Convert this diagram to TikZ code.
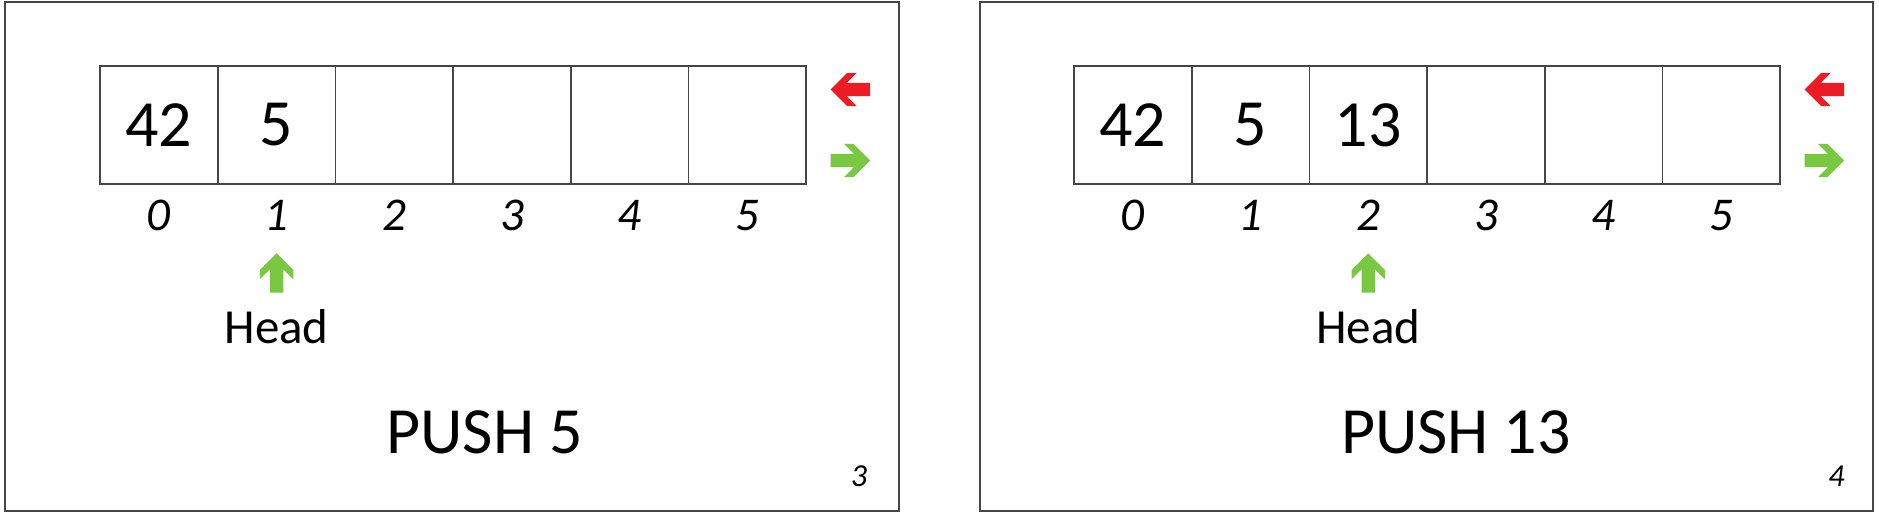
\documentclass[tikz,border=0pt]{standalone}
\usepackage{fontspec}
\setmainfont{Carlito}
\usepackage{tikz}

\definecolor{pushred}{RGB}{237,28,36}
\definecolor{pushgreen}{RGB}{122,200,66}
\definecolor{linegray}{RGB}{70,70,70}

\begin{document}
\begin{tikzpicture}[x=1pt,y=-1pt,
    every node/.style={inner sep=0pt, outer sep=0pt},
    cell/.style={draw=linegray, line width=1.8pt, minimum width=117.7pt, minimum height=117.7pt, font=\fontsize{66}{70}\selectfont},
    idx/.style={anchor=base, font=\fontsize{47}{50}\selectfont\itshape},
    title/.style={anchor=base, font=\fontsize{66}{70}\selectfont},
    pageno/.style={anchor=base, font=\fontsize{32}{34}\selectfont\itshape},
    blockarrow/.pic={\fill (0,0) -- (-16.7,16.7) -- (-16.7,26) -- (-6.7,16) -- (-6.7,39.3) -- (6.7,39.3) -- (6.7,16) -- (16.7,26) -- (16.7,16.7) -- cycle;}]
    \useasboundingbox (0,0) rectangle (1879,513);
    % slide 3
    \draw[linegray, line width=2pt] (4.7,1.7) rectangle (898.7,510.7);
    \node[cell] (a0) at (158.85,125) {42};
    \node[cell] (a1) at (276.55,125) {5};
    \node[cell] (a2) at (394.25,125) {};
    \node[cell] (a3) at (511.95,125) {};
    \node[cell] (a4) at (629.65,125) {};
    \node[cell] (a5) at (747.35,125) {};
    \node[idx] (ai0) at (158.85,230) {0};
    \node[idx] (ai1) at (276.55,230) {1};
    \node[idx] (ai2) at (394.25,230) {2};
    \node[idx] (ai3) at (511.95,230) {3};
    \node[idx] (ai4) at (629.65,230) {4};
    \node[idx] (ai5) at (747.35,230) {5};
    \pic[fill=pushred, rotate=90] at (830.7,89.5) {blockarrow};
    \pic[fill=pushgreen, rotate=-90] at (870,160.5) {blockarrow};
    \pic[fill=pushgreen] at (276.55,253.3) {blockarrow};
    \node[anchor=base, font=\fontsize{49}{52}\selectfont] (ahead) at (276.55,343.3) {Head};
    \node[title] (apush) at (484.5,453) {PUSH 5};
    \node[pageno] (apage) at (859,486) {3};
    % slide 4
    \draw[linegray, line width=2pt] (980,1.7) rectangle (1872.7,510.7);
    \node[cell] (b0) at (1132.85,125) {42};
    \node[cell] (b1) at (1250.55,125) {5};
    \node[cell] (b2) at (1368.25,125) {13};
    \node[cell] (b3) at (1485.95,125) {};
    \node[cell] (b4) at (1603.65,125) {};
    \node[cell] (b5) at (1721.35,125) {};
    \node[idx] (bi0) at (1132.85,230) {0};
    \node[idx] (bi1) at (1250.55,230) {1};
    \node[idx] (bi2) at (1368.25,230) {2};
    \node[idx] (bi3) at (1485.95,230) {3};
    \node[idx] (bi4) at (1603.65,230) {4};
    \node[idx] (bi5) at (1721.35,230) {5};
    \pic[fill=pushred, rotate=90] at (1804.7,89.5) {blockarrow};
    \pic[fill=pushgreen, rotate=-90] at (1844,160.5) {blockarrow};
    \pic[fill=pushgreen] at (1368.25,253.3) {blockarrow};
    \node[anchor=base, font=\fontsize{49}{52}\selectfont] (bhead) at (1368.25,343.3) {Head};
    \node[title] (bpush) at (1456,453) {PUSH 13};
    \node[pageno] (bpage) at (1836.5,486) {4};
\end{tikzpicture}
\end{document}
